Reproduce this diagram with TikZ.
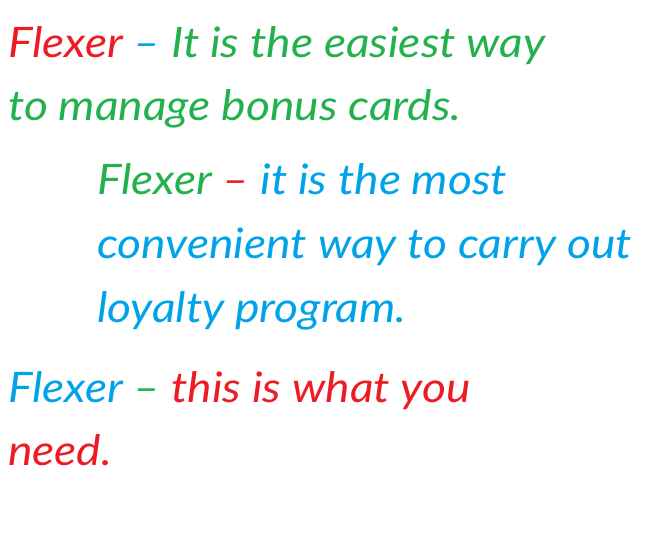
\documentclass[tikz,border=0pt]{standalone}
\usepackage{fontspec}
\setmainfont[FakeStretch=1.1]{Lato}
\usepackage{tikz}
\usetikzlibrary{positioning}
\definecolor{pred}{HTML}{ED1C24}
\definecolor{pgreen}{HTML}{22B14C}
\definecolor{pblue}{HTML}{00A2E8}
\tikzset{txt/.style={anchor=base west,inner sep=0pt,font=\fontsize{42}{44}\selectfont\itshape}}
\begin{document}
\begin{tikzpicture}[x=1pt,y=-1pt]
 \useasboundingbox[fill=white] (0,0) rectangle (654,553);
%1
  \node[txt] (l1) at (8,58) {\textcolor{pred}{Flexer} \textcolor{pblue}{--} \textcolor{pgreen}{It is the easiest way}};
  \node[txt,text=pgreen] (l2) at (8,121) {to manage bonus cards.};
%2
  \node[txt] (l3) at (97,195) {\textcolor{pgreen}{Flexer} \textcolor{pred}{--} \textcolor{pblue}{it is the most}};
  \node[txt,text=pblue] (l4) at (97,259) {convenient way to carry out};
  \node[txt,text=pblue] (l5) at (97,323) {loyalty program.};
%3
  \node[txt] (l6) at (8,403) {\textcolor{pblue}{Flexer} \textcolor{pgreen}{--} \textcolor{pred}{this is what you}};
  \node[txt,text=pred] (l7) at (8,466) {need.};
\end{tikzpicture}
\end{document}
